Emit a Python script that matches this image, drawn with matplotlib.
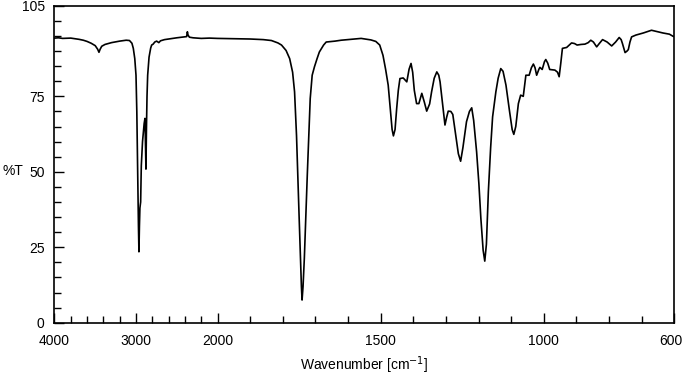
import numpy as np
import matplotlib
matplotlib.use("Agg")
import matplotlib.pyplot as plt
import matplotlib.transforms as mtransforms

plt.rcParams["font.family"] = ["Liberation Sans", "DejaVu Sans"]

# IR spectrum (wavenumber in cm-1, transmittance in %)
wavenumber = [
    4000, 3950, 3900, 3800, 3700, 3646, 3600, 3550, 3500, 3470, 3454, 3440,
    3420, 3380, 3300, 3200, 3120, 3080, 3050, 3033, 3015, 3000, 2990, 2980,
    2970, 2964, 2958, 2952, 2943, 2935, 2920, 2900, 2890, 2884, 2878, 2872,
    2865, 2857, 2840, 2820, 2808, 2790, 2770, 2747, 2720, 2700, 2650, 2600,
    2500, 2400, 2379, 2370, 2362, 2345, 2300, 2200, 2100, 2000, 1900, 1860,
    1835, 1815, 1804, 1790, 1779, 1770, 1764, 1758, 1754, 1750, 1746, 1743,
    1741, 1738, 1734, 1730, 1725, 1720, 1716, 1710, 1703, 1695, 1688, 1675,
    1667, 1640, 1621, 1600, 1560, 1530, 1515, 1503, 1493, 1485, 1477, 1470,
    1465, 1461, 1456, 1451, 1446, 1441, 1431, 1420, 1413, 1407, 1402, 1397,
    1390, 1383, 1374, 1366, 1359, 1350, 1344, 1336, 1328, 1322, 1318, 1310,
    1303, 1298, 1293, 1285, 1279, 1270, 1262, 1255, 1248, 1237, 1228, 1221,
    1215, 1206, 1199, 1193, 1186, 1181, 1176, 1170, 1163, 1157, 1147, 1140,
    1132, 1125, 1116, 1105, 1097, 1092, 1086, 1078, 1071, 1063, 1055, 1045,
    1038, 1032, 1027, 1022, 1015, 1012, 1005, 998, 994, 988, 982, 966,
    958, 953, 948, 943, 930, 922, 915, 906, 898, 886, 874, 864,
    856, 848, 838, 830, 820, 806, 792, 780, 769, 763, 759, 751,
    745, 741, 736, 731, 718, 695, 670, 650, 635, 615, 604, 600,
]
transmittance = [
    94.3, 94.4, 94.2, 94.3, 93.9, 93.6, 93.2, 92.6, 91.8, 90.6, 89.6, 90.6,
    91.6, 92.2, 92.8, 93.3, 93.6, 93.5, 92.6, 90.9, 87.5, 82.0, 70.0, 50.0,
    32.0, 23.5, 32.0, 38.0, 40.0, 52.0, 60.0, 66.0, 67.7, 60.0, 50.9, 64.0,
    75.0, 82.0, 88.0, 91.0, 92.0, 92.3, 93.0, 93.3, 92.8, 93.4, 93.8, 94.0,
    94.4, 94.7, 94.8, 96.4, 95.3, 94.6, 94.4, 94.2, 94.3, 94.2, 94.0, 93.8,
    93.5, 92.7, 92.0, 90.2, 87.5, 83.0, 76.5, 62.0, 48.9, 35.0, 21.4, 12.0,
    7.5, 12.0, 21.4, 34.0, 48.9, 63.0, 74.3, 82.0, 84.8, 87.5, 89.7, 92.0,
    93.0, 93.3, 93.6, 93.8, 94.2, 93.7, 93.2, 92.0, 88.6, 84.0, 78.7, 70.0,
    64.0, 61.9, 64.0, 71.0, 77.0, 80.9, 81.1, 79.8, 84.0, 85.9, 83.0, 77.0,
    72.6, 72.6, 76.0, 73.0, 70.1, 72.5, 76.5, 81.0, 83.1, 82.0, 79.8, 72.0,
    65.5, 68.0, 70.1, 70.0, 69.0, 62.0, 56.0, 53.5, 58.0, 66.6, 70.0, 71.2,
    67.0, 56.6, 46.0, 34.6, 24.0, 20.4, 26.0, 43.4, 58.0, 68.2, 76.5, 81.0,
    84.2, 83.3, 78.7, 70.0, 64.0, 62.4, 65.0, 72.6, 75.4, 75.0, 82.0, 82.0,
    84.5, 85.7, 84.5, 82.0, 84.0, 84.6, 83.9, 86.5, 87.2, 86.0, 83.9, 83.7,
    83.0, 81.5, 86.0, 90.9, 91.2, 92.0, 92.7, 92.5, 92.0, 92.2, 92.3, 92.8,
    93.6, 93.0, 91.4, 92.5, 93.8, 93.0, 91.7, 93.0, 94.5, 93.8, 92.5, 89.5,
    90.0, 90.5, 93.0, 94.7, 95.3, 96.0, 96.9, 96.4, 96.0, 95.6, 94.9, 94.8,
]

x_major = [4000, 3000, 2000, 1500, 1000, 600]
x_minor = [3800, 3600, 3400, 3200, 2800, 2600, 2400, 2200,
           1900, 1800, 1700, 1600, 1400, 1300, 1200, 1100, 900, 800, 700]
y_major = [0, 25, 50, 75, 105]
y_minor = list(range(5, 105, 5))


# 4000-2000 region is drawn compressed four times
def forward(w):
    w = np.asarray(w, dtype=float)
    return np.where(w > 2000, 2000 + (w - 2000) / 4.0, w)


def inverse(u):
    u = np.asarray(u, dtype=float)
    return np.where(u > 2000, 2000 + (u - 2000) * 4.0, u)


fig = plt.figure(figsize=(6.83, 3.75), dpi=100)
ax = fig.add_axes([0.0797, 0.1395, 0.9076, 0.845])
ax.set_xscale("function", functions=(forward, inverse))
ax.plot(wavenumber, transmittance, color="black", linewidth=1.2)

ax.set_xlim(4000, 600)
ax.set_ylim(0, 105)
ax.set_xticks(x_major)
ax.set_xticklabels([str(v) for v in x_major])
ax.set_xticks(x_minor, minor=True)
ax.set_yticks(y_major)
ax.set_yticklabels([str(v) for v in y_major])
ax.set_yticks(y_minor, minor=True)

ax.tick_params(which="both", direction="in", top=False, right=False,
               labelsize=10, width=1.0)
ax.tick_params(which="major", length=7)
ax.tick_params(which="minor", length=5)
ax.tick_params(axis="x", which="both", pad=8)
ax.tick_params(axis="y", which="both", pad=7)
for side in ax.spines.values():
    side.set_linewidth(1.2)

# keep the last label inside the figure, as in the reference
last = ax.get_xticklabels()[-1]
last.set_horizontalalignment("right")
last.set_transform(last.get_transform() +
                   mtransforms.ScaledTranslation(0.085, 0, fig.dpi_scale_trans))

ax.set_xlabel("Wavenumber [cm$^{-1}$]", fontsize=10, labelpad=5)
fig.text(0.003, (375 - 171) / 375, "%T", fontsize=10, va="center", ha="left")

fig.savefig("out.png", dpi=100)
